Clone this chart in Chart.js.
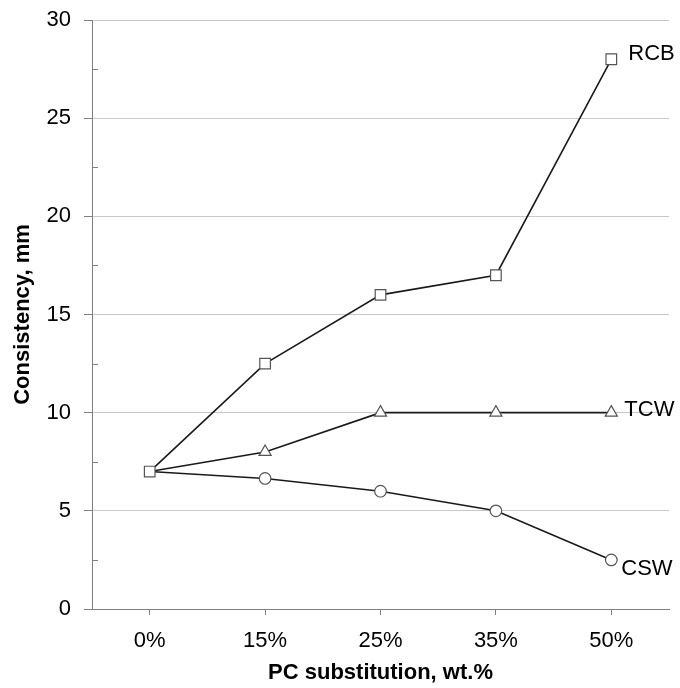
<!DOCTYPE html>
<html>
<head>
<meta charset="utf-8">
<script src="https://cdn.jsdelivr.net/npm/chart.js@4"></script>
<style>
  html, body { margin: 0; padding: 0; background: #fff; }
  #wrap { width: 680px; height: 688px; }
</style>
</head>
<body>
<div id="wrap"><canvas id="chart" width="680" height="688"></canvas></div>
<script>
const categories = ['0%', '15%', '25%', '35%', '50%'];
const rcb = [7, 12.5, 16, 17, 28];
const tcw = [7, 8, 10, 10, 10];
const csw = [7, 6.65, 6, 5, 2.5];
const seriesNames = ['RCB', 'TCW', 'CSW'];

const FONT = 'Liberation Sans, Arial, sans-serif';

// minor ticks inside the y axis + series names at the end of each line
const extras = {
    id: 'extras',
    afterDraw(chart) {
        const ctx = chart.ctx;
        const y = chart.scales.y;
        ctx.save();
        ctx.strokeStyle = '#808080';
        ctx.lineWidth = 1;
        for (let v = 2.5; v < 30; v += 5) {
            const py = Math.round(y.getPixelForValue(v)) + 0.5;
            ctx.beginPath();
            ctx.moveTo(y.right, py);
            ctx.lineTo(y.right + 6, py);
            ctx.stroke();
        }
        ctx.fillStyle = '#000';
        ctx.font = '22px ' + FONT;
        ctx.textBaseline = 'middle';
        const offsets = [[17, -5], [13, -3], [10, 9]];
        chart.data.datasets.forEach((ds, i) => {
            const pt = chart.getDatasetMeta(i).data[ds.data.length - 1];
            ctx.fillText(seriesNames[i], pt.x + offsets[i][0], pt.y + offsets[i][1]);
        });
        ctx.restore();
    }
};

const common = {
    borderColor: '#1a1a1a',
    borderWidth: 1.6,
    pointBackgroundColor: '#fff',
    pointBorderColor: '#555',
    pointBorderWidth: 1.2,
    tension: 0
};

// shared starting point: only the square is shown there
new Chart(document.getElementById('chart').getContext('2d'), {
    type: 'line',
    data: {
        labels: categories,
        datasets: [
            Object.assign({ label: 'RCB', data: rcb, pointStyle: 'rect', pointRadius: 7.5 }, common),
            Object.assign({ label: 'TCW', data: tcw, pointStyle: 'triangle', pointRadius: [0, 7, 7, 7, 7] }, common),
            Object.assign({ label: 'CSW', data: csw, pointStyle: 'circle', pointRadius: [0, 5.8, 5.8, 5.8, 5.8] }, common)
        ]
    },
    options: {
        responsive: false,
        animation: false,
        layout: { padding: { left: 0, right: 11, top: 20, bottom: 0 } },
        plugins: { legend: { display: false }, tooltip: { enabled: false } },
        scales: {
            x: {
                offset: true,
                afterFit: s => { s.height = 79; },
                grid: { offset: false, drawOnChartArea: false, color: '#808080', tickLength: 6 },
                border: { color: '#808080' },
                ticks: { color: '#000', font: { family: FONT, size: 22 }, padding: 13 },
                title: { display: true, text: 'PC substitution, wt.%', color: '#000',
                         font: { family: FONT, size: 22, weight: 'bold' }, padding: { top: 0, bottom: 2 } }
            },
            y: {
                min: 0, max: 30,
                afterFit: s => { s.width = 92; s.paddingTop = 0; s.paddingBottom = 0; },
                ticks: { stepSize: 5, color: '#000', font: { family: FONT, size: 22 }, padding: 13 },
                grid: { color: '#c8c8c8', tickColor: '#808080', tickLength: 8 },
                border: { color: '#808080' },
                title: { display: true, text: 'Consistency, mm', color: '#000',
                         font: { family: FONT, size: 22, weight: 'bold' }, padding: { top: 10, bottom: 0 } }
            }
        }
    },
    plugins: [extras]
});
</script>
</body>
</html>
